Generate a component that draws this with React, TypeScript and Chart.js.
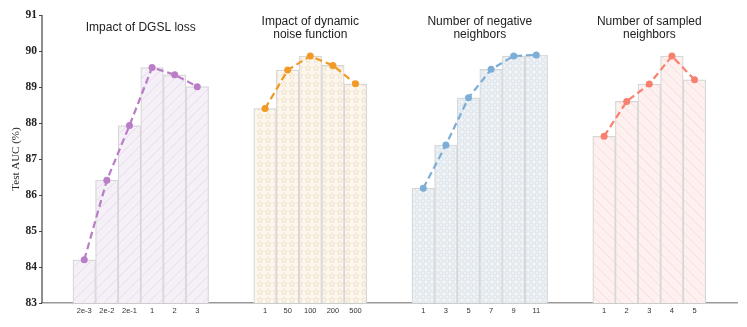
import React, { useEffect, useRef } from "react";
import { Chart, registerables } from "chart.js";

Chart.register(...registerables);

// ---- data ----
const groupTitles: string[][] = [
  ["Impact of DGSL loss"],
  ["Impact of dynamic", "noise function"],
  ["Number of negative", "neighbors"],
  ["Number of sampled", "neighbors"],
];
const dgslLabels = ["2e-3", "2e-2", "2e-1", "1", "2", "3"];
const dgslValues = [84.2, 86.41, 87.93, 89.54, 89.34, 89.01];
const noiseLabels = ["1", "50", "100", "200", "500"];
const noiseValues = [88.4, 89.47, 89.86, 89.6, 89.09];
const negLabels = ["1", "3", "5", "7", "9", "11"];
const negValues = [86.19, 87.39, 88.7, 89.49, 89.86, 89.89];
const sampledLabels = ["1", "2", "3", "4", "5"];
const sampledValues = [87.63, 88.6, 89.08, 89.86, 89.2];
const yTicks = [83, 84, 85, 86, 87, 88, 89, 90, 91];

// ---- styles ----
const GAP = 2;
const styles = [
  { line: "#ba7dc8", bg: "#f5eff7", fg: "#e4d7e8", kind: "slash" },
  { line: "#f29a25", bg: "#fcf6ec", fg: "#eadcc2", kind: "star" },
  { line: "#7caed8", bg: "#eff3f6", fg: "#d3dde5", kind: "circle" },
  { line: "#f8806f", bg: "#fdf0ee", fg: "#f1d9d5", kind: "backslash" },
];

function makePattern(kind: string, bg: string, fg: string) {
  const size = kind === "star" ? 8 : kind === "circle" ? 6 : 11;
  const c = document.createElement("canvas");
  c.width = size;
  c.height = size;
  const ctx = c.getContext("2d")!;
  ctx.fillStyle = bg;
  ctx.fillRect(0, 0, size, size);
  ctx.strokeStyle = fg;
  ctx.lineWidth = 0.8;
  if (kind === "slash") {
    ctx.beginPath();
    ctx.moveTo(-1, size + 1);
    ctx.lineTo(size + 1, -1);
    ctx.moveTo(-1, 1);
    ctx.lineTo(1, -1);
    ctx.moveTo(size - 1, size + 1);
    ctx.lineTo(size + 1, size - 1);
    ctx.stroke();
  } else if (kind === "backslash") {
    ctx.beginPath();
    ctx.moveTo(-1, -1);
    ctx.lineTo(size + 1, size + 1);
    ctx.moveTo(size - 1, -1);
    ctx.lineTo(size + 1, 1);
    ctx.moveTo(-1, size - 1);
    ctx.lineTo(1, size + 1);
    ctx.stroke();
  } else if (kind === "circle") {
    ctx.beginPath();
    ctx.arc(size / 2, size / 2, 2.1, 0, Math.PI * 2);
    ctx.stroke();
  } else {
    const cx = size / 2,
      cy = size / 2;
    ctx.beginPath();
    for (let i = 0; i < 10; i++) {
      const r = i % 2 === 0 ? 3.2 : 1.3;
      const a = -Math.PI / 2 + (i * Math.PI) / 5;
      const px = cx + r * Math.cos(a);
      const py = cy + r * Math.sin(a);
      if (i === 0) ctx.moveTo(px, py);
      else ctx.lineTo(px, py);
    }
    ctx.closePath();
    ctx.lineWidth = 0.6;
    ctx.stroke();
  }
  return ctx.createPattern(c, "repeat")!;
}

export default function App() {
  const ref = useRef<HTMLCanvasElement>(null);

  useEffect(() => {
    document.body.style.margin = "0";
    const groups = [
      { labels: dgslLabels, values: dgslValues },
      { labels: noiseLabels, values: noiseValues },
      { labels: negLabels, values: negValues },
      { labels: sampledLabels, values: sampledValues },
    ];
    let start = 0;
    const positioned = groups.map((g) => {
      const xs = g.labels.map((_, i) => start + i);
      start += g.labels.length + GAP;
      return { ...g, xs };
    });
    const allX: number[] = [];
    const allLabels: string[] = [];
    const barData: { x: number; y: number }[] = [];
    const barBg: CanvasPattern[] = [];
    positioned.forEach((g, gi) => {
      const pat = makePattern(styles[gi].kind, styles[gi].bg, styles[gi].fg);
      g.xs.forEach((x, i) => {
        allX.push(x);
        allLabels.push(g.labels[i]);
        barData.push({ x, y: g.values[i] });
        barBg.push(pat);
      });
    });

    const lineSets = positioned.map((g, gi) => ({
      type: "line" as const,
      xAxisID: "x",
      yAxisID: "y",
      data: g.xs.map((x, i) => ({ x, y: g.values[i] })),
      borderColor: styles[gi].line,
      backgroundColor: styles[gi].line,
      borderWidth: 2.2,
      borderDash: [7, 4],
      pointRadius: 3.5,
      pointBorderWidth: 0,
      pointBackgroundColor: styles[gi].line,
      tension: 0,
      order: 0,
    }));

    const titlePlugin = {
      id: "groupTitles",
      afterDraw(chart: any) {
        const ctx = chart.ctx;
        const xs = chart.scales.x;
        const ys = chart.scales.y;
        const ca = chart.chartArea;
        ctx.save();
        // clear the stray edge line at the right end of the plot area
        ctx.fillStyle = "#fff";
        ctx.fillRect(ca.right - 1, 0, chart.width - ca.right + 1, ca.bottom - 1);
        // y axis spine and tick marks
        ctx.strokeStyle = "#444";
        ctx.lineWidth = 1.2;
        ctx.beginPath();
        ctx.moveTo(ca.left, ca.top);
        ctx.lineTo(ca.left, ca.bottom);
        yTicks.forEach((v) => {
          const py = Math.round(ys.getPixelForValue(v)) + 0.5;
          ctx.moveTo(ca.left, py);
          ctx.lineTo(ca.left - 3, py);
        });
        ctx.stroke();
        ctx.fillStyle = "#222";
        ctx.font = "12px 'Liberation Sans', Arial, sans-serif";
        ctx.textAlign = "center";
        ctx.textBaseline = "middle";
        positioned.forEach((g, gi) => {
          const cx =
            (xs.getPixelForValue(g.xs[0]) +
              xs.getPixelForValue(g.xs[g.xs.length - 1])) /
            2;
          const lines = groupTitles[gi];
          const lh = 13.5;
          const mid = ca.top + 13;
          lines.forEach((t, li) => {
            const y = mid + (li - (lines.length - 1) / 2) * lh;
            ctx.fillText(t, cx, y);
          });
        });
        ctx.restore();
      },
    };

    const chart = new Chart(ref.current!, {
      type: "bar",
      data: {
        datasets: [
          ...lineSets,
          {
            type: "bar" as const,
            xAxisID: "x",
            yAxisID: "y",
            data: barData,
            backgroundColor: barBg,
            borderColor: "#d6d6d6",
            borderWidth: 1.2,
            base: 83,
            barPercentage: 1,
            categoryPercentage: 1,
            order: 1,
          } as any,
        ],
      },
      options: {
        responsive: false,
        animation: false,
        layout: { padding: { top: 15, right: 10, left: 0, bottom: 0 } },
        plugins: {
          legend: { display: false },
          tooltip: { enabled: false },
        },
        scales: {
          x: {
            type: "linear",
            min: -1.87,
            max: 28.88,
            offset: false,
            grid: { display: false, drawTicks: false, offset: false },
            border: { display: true, color: "#999", width: 1.5 },
            afterBuildTicks: (scale: any) => {
              scale.ticks = allX.map((v) => ({ value: v }));
            },
            afterFit: (scale: any) => {
              scale.height = 24;
            },
            ticks: {
              autoSkip: false,
              maxRotation: 0,
              padding: 3,
              color: "#333",
              font: { family: "'Liberation Sans', Arial, sans-serif", size: 7.5 },
              callback: (_v: any, i: number) => allLabels[i],
            },
          },
          y: {
            type: "linear",
            min: 83,
            max: 91,
            afterBuildTicks: (scale: any) => {
              scale.ticks = yTicks.map((v) => ({ value: v }));
            },
            afterFit: (scale: any) => {
              scale.width = 42;
            },
            grid: { display: false, drawTicks: false },
            border: { display: false },
            title: {
              display: true,
              text: "Test AUC (%)",
              color: "#222",
              padding: { top: 10, bottom: 0 },
              font: { family: "'Liberation Serif', 'Times New Roman', serif", size: 11 },
            },
            ticks: {
              padding: 5,
              color: "#222",
              font: {
                family: "'Liberation Serif', 'Times New Roman', serif",
                size: 11.5,
                weight: "bold",
              },
              callback: (v: any) => String(v),
            },
          },
        },
      },
      plugins: [titlePlugin],
    });
    return () => chart.destroy();
  }, []);

  return (
    <div style={{ width: 747, height: 327 }}>
      <canvas ref={ref} width={747} height={327} style={{ display: "block" }} />
    </div>
  );
}
